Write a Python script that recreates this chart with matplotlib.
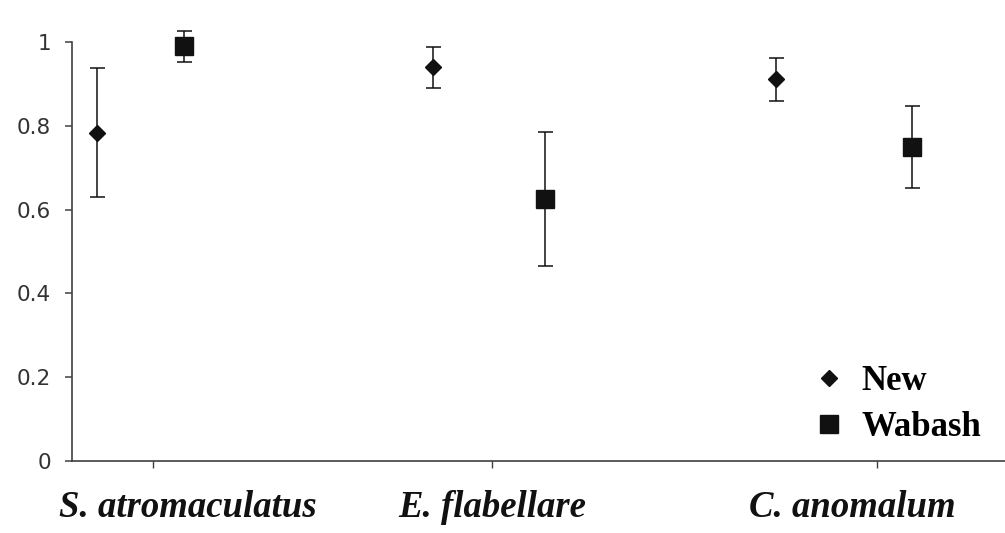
import numpy as np
import matplotlib.pyplot as plt
from matplotlib.lines import Line2D

species = ["S. atromaculatus", "E. flabellare", "C. anomalum"]
new_mean = [0.783, 0.940, 0.911]
new_err = [0.154, 0.049, 0.051]
wabash_mean = [0.990, 0.625, 0.750]
wabash_err = [0.037, 0.160, 0.098]
yticks = [0, 0.2, 0.4, 0.6, 0.8, 1]
ytick_labels = ["0", "0.2", "0.4", "0.6", "0.8", "1"]

# horizontal placement of each group along the category axis
x_new = [-0.13, 0.83, 1.81]
x_wab = [0.12, 1.15, 2.20]
x_ticks = [0.03, 1.00, 2.10]
x_labels = [0.13, 1.00, 2.03]

fig = plt.figure(figsize=(10.05, 5.33), dpi=100)
ax = fig.add_axes([72 / 1005, 72 / 533, 933 / 1005, 419 / 533])

ink = "#111111"
ax.errorbar(x_new, new_mean, yerr=new_err, fmt="none", ecolor=ink,
            elinewidth=1.1, capsize=5.4, capthick=1.1, clip_on=False)
ax.errorbar(x_wab, wabash_mean, yerr=wabash_err, fmt="none", ecolor=ink,
            elinewidth=1.1, capsize=5.4, capthick=1.1, clip_on=False)
ax.plot(x_new, new_mean, "D", color=ink, ms=8.5, ls="none", clip_on=False, zorder=3)
ax.plot(x_wab, wabash_mean, "s", color=ink, ms=13, ls="none", clip_on=False, zorder=3)

ax.set_xlim(-0.2, -0.2 + 933 / 350)
ax.set_ylim(0, 1)

for s in ["top", "right"]:
    ax.spines[s].set_visible(False)
for s in ["left", "bottom"]:
    ax.spines[s].set_color("#404040")
    ax.spines[s].set_linewidth(1.2)

ax.set_yticks(yticks)
ax.set_yticklabels(ytick_labels, fontsize=15.5, color="#333333", family="DejaVu Sans")
ax.tick_params(axis="y", direction="out", length=5, width=1.1, color="#404040", pad=10)
ax.set_xticks(x_ticks)
ax.set_xticklabels([])
ax.tick_params(axis="x", direction="out", length=5, width=1.0, color="#404040")

for xl, name in zip(x_labels, species):
    ax.text(xl, -0.112, name, transform=ax.get_xaxis_transform(),
            ha="center", va="center", fontsize=26.5, fontweight="bold",
            fontstyle="italic", family="Liberation Serif", color="#111111")

handles = [Line2D([], [], marker="D", color=ink, ls="none", ms=8.5),
           Line2D([], [], marker="s", color=ink, ls="none", ms=13)]
ax.legend(handles, ["New", "Wabash"], loc="upper left",
          bbox_to_anchor=(739.5 / 933, 96 / 419), frameon=False,
          prop={"family": "Liberation Serif", "weight": "bold", "size": 25},
          handlelength=1.0, handletextpad=0.45, labelspacing=0.38,
          borderpad=0, borderaxespad=0)

fig.savefig("out.png", dpi=100)
